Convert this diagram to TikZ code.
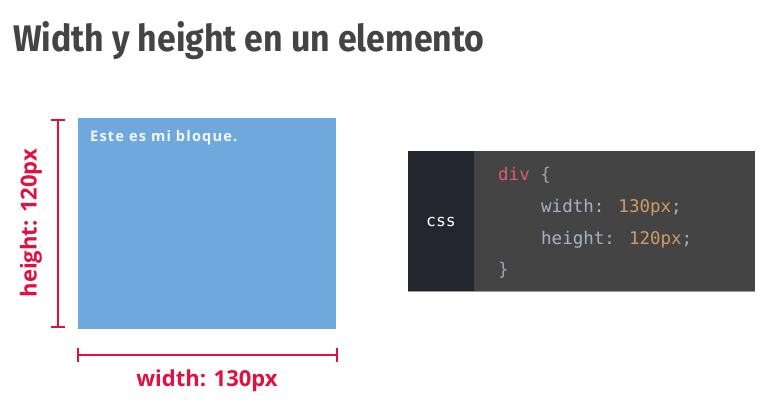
\documentclass[tikz,border=0pt]{standalone}
\usepackage{fontspec}
\setmainfont{Fira Sans}
\newfontfamily\titlefont{Fira Sans}
\newfontfamily\labfont{Open Sans}
\newfontfamily\boxfont{Open Sans}[LetterSpace=8]
\newfontfamily\codefont{DejaVu Sans Mono}
\definecolor{titlegray}{HTML}{444444}
\definecolor{blockblue}{HTML}{6FA8DC}
\definecolor{dimred}{HTML}{E1103F}
\definecolor{gutter}{HTML}{23262E}
\definecolor{codebg}{HTML}{444444}
\definecolor{kwpink}{HTML}{E45B6C}
\definecolor{punct}{HTML}{9DA5B4}
\definecolor{prop}{HTML}{ABB2BF}
\definecolor{val}{HTML}{D19A66}
\tikzset{
  dimline/.style={draw=dimred, line width=2.6pt},
  dimlabel/.style={text=dimred, font=\labfont\bfseries\fontsize{22}{26}\selectfont, inner sep=0pt},
  codeline/.style={anchor=base west, inner sep=0pt, font=\codefont\fontsize{17.5}{20}\selectfont},
}
\begin{document}
\begin{tikzpicture}[x=1pt,y=-1pt]
\useasboundingbox (0,0) rectangle (783,411);
% title
\node[anchor=base west, inner sep=0pt, text=titlegray, xscale=0.915, font=\titlefont\bfseries\fontsize{37}{40}\selectfont] (title) at (13,52) {Width y height en un elemento};
% block
\fill[blockblue] (78,118) rectangle (336,329);
\coordinate (blockNW) at (78,118);
\node[anchor=base west, inner sep=0pt, text=white!92!blockblue, font=\boxfont\bfseries\fontsize{14.6}{17}\selectfont] (blocktext) at (90,142) {Este es mi bloque.};
% height dimension
\coordinate (hTop) at (58,120);
\coordinate (hBot) at (58,327);
\draw[dimline] (hTop) -- (hBot);
\draw[dimline] (51,120) -- (65,120);
\draw[dimline] (51,327) -- (65,327);
\node[dimlabel, rotate=90] (hlabel) at (31,223) {height: 120px};
% width dimension
\coordinate (wL) at (78,355);
\coordinate (wR) at (337,355);
\draw[dimline] (wL) -- (wR);
\draw[dimline] (78,348) -- (78,362);
\draw[dimline] (337,348) -- (337,362);
\node[dimlabel, anchor=base] (wlabel) at (207,386) {width: 130px};
% code box
\fill[codebg] (474,151) rectangle (755,292);
\fill[gutter] (408,151) rectangle (474,292);
\draw[gray!80, line width=0.8pt] (408,291.6) -- (755,291.6);
\node[text=white, font=\codefont\fontsize{16.5}{18}\selectfont, inner sep=0pt] (css) at (441,222) {css};
\node[codeline] (l1) at (498,181) {\textcolor{kwpink}{div} \textcolor{punct}{\{}};
\node[codeline] (l2) at (541,213) {\textcolor{prop}{width:} \textcolor{val}{130px}\textcolor{prop}{;}};
\node[codeline] (l3) at (541,244) {\textcolor{prop}{height:} \textcolor{val}{120px}\textcolor{prop}{;}};
\node[codeline] (l4) at (498,275) {\textcolor{punct}{\}}};
\end{tikzpicture}
\end{document}
